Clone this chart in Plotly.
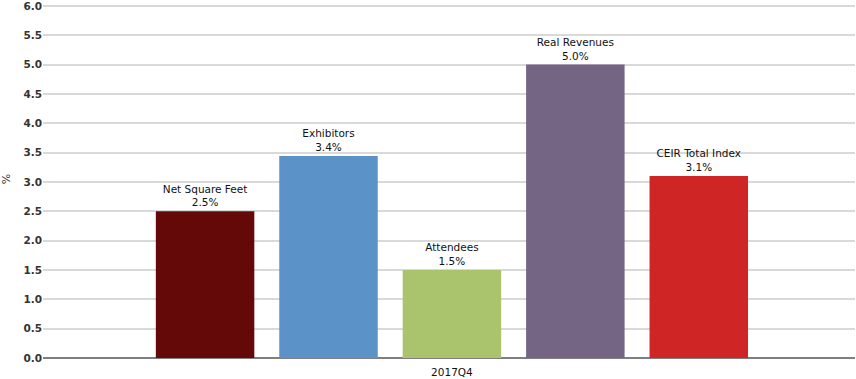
import plotly.graph_objects as go

category = ["2017Q4"]
series_names = ["Net Square Feet", "Exhibitors", "Attendees", "Real Revenues", "CEIR Total Index"]
series_values = [2.5, 3.44, 1.5, 5.0, 3.1]
colors = ["#650808", "#5b93c8", "#aac46e", "#746585", "#d02525"]
y_ticks = [0.0, 0.5, 1.0, 1.5, 2.0, 2.5, 3.0, 3.5, 4.0, 4.5, 5.0, 5.5, 6.0]

fig = go.Figure()
for name, val, col in zip(series_names, series_values, colors):
    fig.add_trace(go.Bar(
        x=category, y=[val], name=name,
        marker=dict(color=col, line=dict(width=0)),
        text=[f"{name}<br>{val:.1f}%"],
        textposition="outside",
        textfont=dict(family="DejaVu Sans", size=10.5, color="#111"),
        cliponaxis=False,
    ))

fig.update_layout(
    width=856, height=379,
    margin=dict(l=43, r=1, t=0, b=21),
    paper_bgcolor="white", plot_bgcolor="white",
    barmode="group", bargap=0.240, bargroupgap=0.202,
    showlegend=False,
    font=dict(family="DejaVu Sans", size=11, color="#333"),
)
fig.update_xaxes(
    range=[-0.5036, 0.4964],
    showgrid=False, showline=False, ticks="",
    ticklabelstandoff=6, ticklabeloverflow="allow",
    tickfont=dict(family="DejaVu Sans", size=10.5, color="#111"),
)
fig.update_yaxes(
    range=[0, 6.1], tickvals=y_ticks, ticktext=[f"{v:.1f}" for v in y_ticks],
    showgrid=True, gridcolor="#d9d9d9", gridwidth=1.5,
    zeroline=True, zerolinecolor="#7f7f7f", zerolinewidth=1.5,
    ticks="", showline=False, ticklabeloverflow="allow",
    tickfont=dict(family="DejaVu Sans", size=10.5, color="#333", weight="bold"),
    title=dict(text="%", standoff=10, font=dict(family="DejaVu Sans", size=11, color="#333")),
)

fig.write_html("out.html", config={"displayModeBar": False},
               post_script="document.body.style.margin='0';")
